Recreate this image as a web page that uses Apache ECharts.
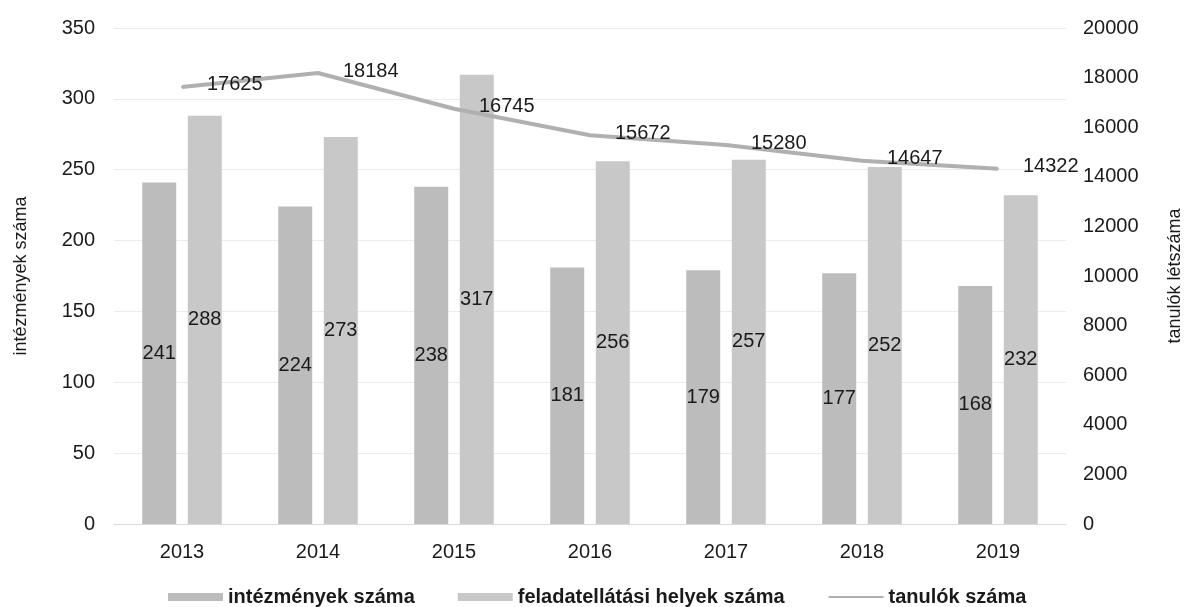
<!DOCTYPE html>
<html>
<head>
<meta charset="utf-8">
<script src="https://cdn.jsdelivr.net/npm/echarts@6/dist/echarts.min.js"></script>
<style>
html,body{margin:0;padding:0;background:#fff;}
#c{width:1192px;height:607px;}
</style>
</head>
<body>
<div id="c"></div>
<script>
const years = ['2013','2014','2015','2016','2017','2018','2019'];
const intezmenyek = [241, 224, 238, 181, 179, 177, 168];
const feladatellatasi = [288, 273, 317, 256, 257, 252, 232];
const tanulok = [17625, 18184, 16745, 15672, 15280, 14647, 14322];
const leftTicks = {min: 0, max: 350, interval: 50};
const rightTicks = {min: 0, max: 20000, interval: 2000};

const font = 'Liberation Sans, Arial, sans-serif';
const chart = echarts.init(document.getElementById('c'), null, {renderer: 'canvas'});
chart.setOption({
  animation: false,
  backgroundColor: '#ffffff',
  textStyle: {fontFamily: font},
  grid: {left: 114, right: 110, top: 28, bottom: 83, containLabel: false},
  legend: {
    left: 163, top: 582,
    itemWidth: 55, itemHeight: 8, itemGap: 43,
    textStyle: {fontSize: 20, fontWeight: 'bold', color: '#1a1a1a', fontFamily: font},
    data: [
      {name: 'intézmények száma', icon: 'rect'},
      {name: 'feladatellátási helyek száma', icon: 'rect'},
      {name: 'tanulók száma', itemStyle: {opacity: 0}}
    ]
  },
  xAxis: {
    type: 'category',
    data: years,
    axisLine: {lineStyle: {color: '#d9d9d9', width: 1}},
    axisTick: {show: false},
    axisLabel: {fontSize: 20, color: '#1a1a1a', margin: 18, fontFamily: font}
  },
  yAxis: [
    {
      type: 'value', min: leftTicks.min, max: leftTicks.max, interval: leftTicks.interval,
      name: 'intézmények száma', nameLocation: 'middle', nameGap: 84, nameRotate: 90,
      nameTextStyle: {fontSize: 18, color: '#1a1a1a', fontFamily: font},
      axisLine: {show: false}, axisTick: {show: false},
      axisLabel: {fontSize: 20, color: '#1a1a1a', margin: 19, fontFamily: font},
      splitLine: {lineStyle: {color: '#ececec', width: 1}}
    },
    {
      type: 'value', min: rightTicks.min, max: rightTicks.max, interval: rightTicks.interval,
      name: 'tanulók létszáma', nameLocation: 'middle', nameGap: 100, nameRotate: 90,
      nameTextStyle: {fontSize: 18, color: '#1a1a1a', fontFamily: font},
      axisLine: {show: false}, axisTick: {show: false},
      axisLabel: {fontSize: 20, color: '#1a1a1a', margin: 17, fontFamily: font,
        formatter: function (v) { return String(v); }},
      splitLine: {show: false}
    }
  ],
  series: [
    {
      name: 'intézmények száma', type: 'bar', data: intezmenyek,
      barWidth: '25%', barGap: '34%',
      itemStyle: {color: '#bcbcbc'},
      label: {show: true, position: 'inside', fontSize: 20, color: '#1a1a1a', fontFamily: font}
    },
    {
      name: 'feladatellátási helyek száma', type: 'bar', data: feladatellatasi,
      barWidth: '25%', barGap: '34%',
      itemStyle: {color: '#c8c8c8'},
      label: {show: true, position: 'inside', fontSize: 20, color: '#1a1a1a', fontFamily: font}
    },
    {
      name: 'tanulók száma', type: 'line', yAxisIndex: 1, data: tanulok,
      symbol: 'circle', symbolSize: 2, showSymbol: true, showAllSymbol: true, z: 5,
      lineStyle: {color: '#b0b0b0', width: 4},
      itemStyle: {color: '#b0b0b0'},
      label: {show: true, position: 'right', distance: 24, offset: [0, -2], fontSize: 20, color: '#1a1a1a', fontFamily: font}
    }
  ]
});
</script>
</body>
</html>
